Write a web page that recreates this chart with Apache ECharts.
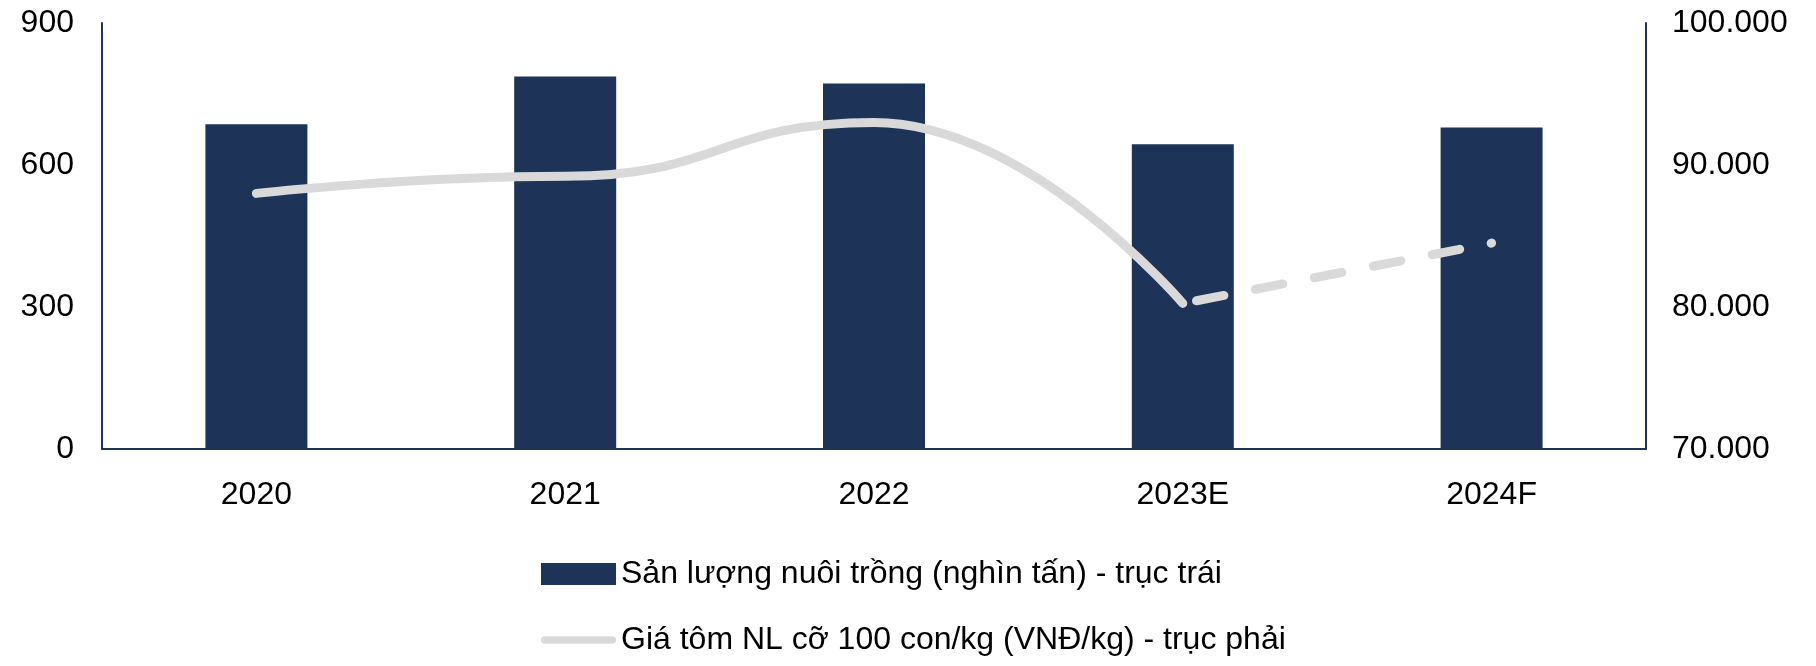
<!DOCTYPE html>
<html><head><meta charset="utf-8">
<script src="https://cdn.jsdelivr.net/npm/echarts@6/dist/echarts.min.js"></script>
<style>html,body{margin:0;background:#fff}#c{width:1816px;height:666px}</style>
</head><body><div id="c"></div>
<script>
const categories = ['2020','2021','2022','2023E','2024F'];
const production = [686, 787, 772, 644, 679];
const priceActual = [88000, 89200, 93000, 80250, null];
const priceForecast = [null, null, null, 80250, 84500];
const leftTicks = [0, 300, 600, 900];
const rightTicks = [70000, 80000, 90000, 100000];

const navy = '#1d3357', grey = '#d9d9d9';
const font = 'Liberation Sans, Arial, sans-serif';
const chart = echarts.init(document.getElementById('c'));
chart.setOption({
  animation: false,
  textStyle: {fontFamily: font},
  grid: {left: 102, right: 170, top: 23, bottom: 217},
  legend: {
    orient: 'vertical', left: 536, top: 553, itemGap: 34,
    itemWidth: 75, itemHeight: 22,
    textStyle: {fontSize: 32, color: '#000', fontFamily: font},
    data: [
      {name: 'Sản lượng nuôi trồng (nghìn tấn) - trục trái', icon: 'rect'},
      {name: 'Giá tôm NL cỡ 100 con/kg (VNĐ/kg) - trục phải', icon: 'path://M5,0 L95,0 A5,5 0 0 1 95,10 L5,10 A5,5 0 0 1 5,0 Z', itemStyle: {color: grey}}
    ]
  },
  xAxis: {
    type: 'category', data: categories,
    axisLine: {lineStyle: {color: navy, width: 2}}, axisTick: {show: false},
    axisLabel: {fontSize: 32, color: '#000', margin: 30, fontFamily: font}
  },
  yAxis: [
    {type: 'value', min: leftTicks[0], max: leftTicks[leftTicks.length-1], interval: 300,
     axisLine: {show: true, lineStyle: {color: navy, width: 2}}, axisTick: {show: false},
     splitLine: {show: false}, axisLabel: {fontSize: 32, color: '#000', margin: 28, fontFamily: font}},
    {type: 'value', min: rightTicks[0], max: rightTicks[rightTicks.length-1], interval: 10000,
     axisLine: {show: true, lineStyle: {color: navy, width: 2}}, axisTick: {show: false},
     splitLine: {show: false},
     axisLabel: {fontSize: 32, color: '#000', margin: 26, fontFamily: font,
       formatter: v => String(v).replace(/\B(?=(\d{3})+(?!\d))/g, '.')}}
  ],
  series: [
    {name: 'Sản lượng nuôi trồng (nghìn tấn) - trục trái', type: 'bar', data: production,
     barWidth: 102, itemStyle: {color: navy}},
    {name: 'Giá tôm NL cỡ 100 con/kg (VNĐ/kg) - trục phải', type: 'line', yAxisIndex: 1,
     data: priceActual, smooth: 0.5, smoothMonotone: 'x', symbol: 'none', z: 5,
     lineStyle: {color: grey, width: 9, cap: 'round'}, itemStyle: {color: grey}},
    {name: 'forecast', type: 'line', yAxisIndex: 1, data: priceForecast, smooth: 0.5,
     symbol: 'none', z: 5,
     lineStyle: {color: grey, width: 9, type: [28, 32], dashOffset: -14, cap: 'round'}}
  ]
});
</script></body></html>
